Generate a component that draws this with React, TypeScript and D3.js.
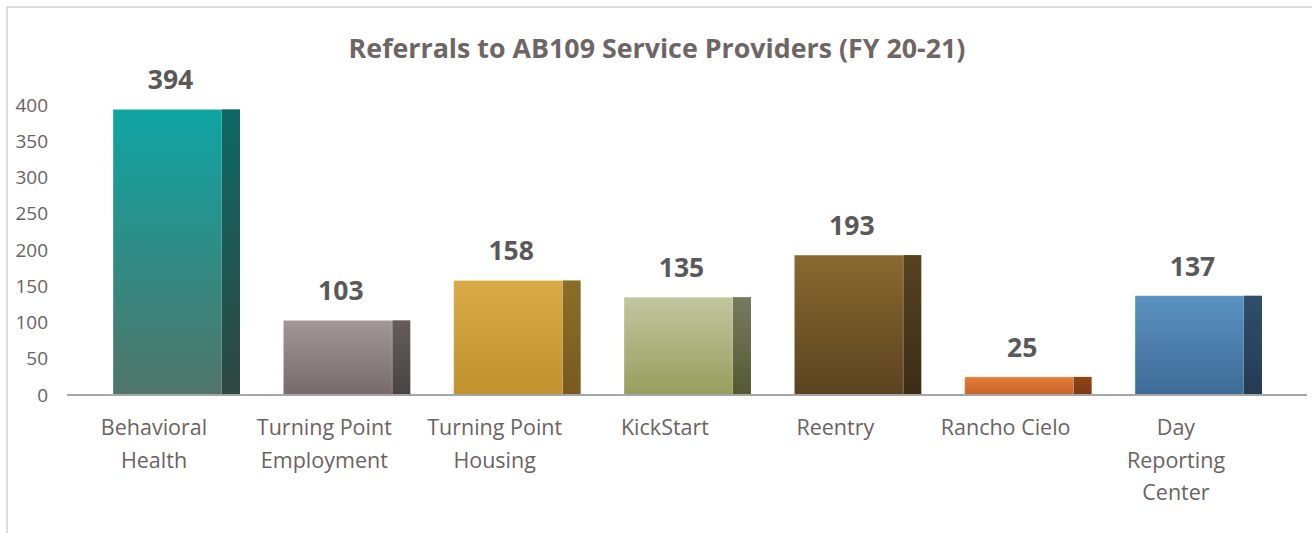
import React from "react";
import * as d3 from "d3";

const categories = [
  "Behavioral Health",
  "Turning Point Employment",
  "Turning Point Housing",
  "KickStart",
  "Reentry",
  "Rancho Cielo",
  "Day Reporting Center",
];
const categoryLines = [
  ["Behavioral", "Health"],
  ["Turning Point", "Employment"],
  ["Turning Point", "Housing"],
  ["KickStart"],
  ["Reentry"],
  ["Rancho Cielo"],
  ["Day", "Reporting", "Center"],
];
const values = [394, 103, 158, 135, 193, 25, 137];
const yTicks = [0, 50, 100, 150, 200, 250, 300, 350, 400];
const title = "Referrals to AB109 Service Providers (FY 20-21)";

// front top, front bottom, side top, side bottom
const barColors = [
  ["#0ea4a3", "#507569", "#0d6763", "#2f4842"],
  ["#a29898", "#766a6a", "#655d5d", "#494343"],
  ["#d9ab47", "#c0912c", "#8c6d28", "#775b1e"],
  ["#c1c79f", "#979e5d", "#777b5e", "#545933"],
  ["#89692f", "#5a4320", "#56431f", "#3b2d15"],
  ["#e27c37", "#c9622a", "#8e4619", "#7a3a13"],
  ["#5b92c1", "#3d6b96", "#2f4f6c", "#233b53"],
];

const W = 1312;
const H = 533;
const FONT = "'Open Sans', 'Noto Sans', sans-serif";

export default function App() {
  const y = d3.scaleLinear().domain([0, 400]).range([395, 105]);
  const x = d3
    .scaleBand<string>()
    .domain(categories)
    .range([113, 113 + 7 * 170.33])
    .paddingInner(0)
    .paddingOuter(0);
  const frontW = 109;
  const sideW = 18;
  const labelOff = 41;

  return (
    <div style={{ position: "fixed", left: 0, top: 0 }}>
      <svg width={W} height={H} style={{ display: "block", background: "#fff" }}>
        <defs>
          {barColors.map((c, i) => (
            <React.Fragment key={i}>
              <linearGradient id={`gf${i}`} x1="0" y1="0" x2="0" y2="1">
                <stop offset="0" stopColor={c[0]} />
                <stop offset="1" stopColor={c[1]} />
              </linearGradient>
              <linearGradient id={`gs${i}`} x1="0" y1="0" x2="0" y2="1">
                <stop offset="0" stopColor={c[2]} />
                <stop offset="1" stopColor={c[3]} />
              </linearGradient>
            </React.Fragment>
          ))}
        </defs>
        {/* chart border */}
        <line x1={7} y1={7} x2={W} y2={7} stroke="#d0d0d0" strokeWidth={1.5} />
        <line x1={7} y1={7} x2={7} y2={H} stroke="#d0d0d0" strokeWidth={1.5} />

        <text
          x={657}
          y={58}
          textAnchor="middle"
          fontFamily={FONT}
          fontWeight={700}
          fontSize={26.8}
          fill="#6e6565"
        >
          {title}
        </text>

        {yTicks.map((t) => (
          <text
            key={t}
            x={48}
            y={y(t)}
            dy="0.35em"
            textAnchor="end"
            fontFamily={FONT}
            fontSize={19}
            fill="#6b6262"
          >
            {t}
          </text>
        ))}

        {categories.map((c, i) => {
          const x0 = x(c)!;
          const top = y(values[i]);
          const bottom = y(0);
          return (
            <g key={c}>
              <rect
                x={x0}
                y={top}
                width={frontW}
                height={bottom - top}
                fill={`url(#gf${i})`}
                stroke="rgba(255,255,255,0.35)"
                strokeWidth={1}
              />
              <rect
                x={x0 + frontW}
                y={top}
                width={sideW}
                height={bottom - top}
                fill={`url(#gs${i})`}
              />
              <text
                x={x0 + frontW / 2 + 3}
                y={top - 20}
                textAnchor="middle"
                fontFamily={FONT}
                fontWeight={700}
                fontSize={26.5}
                fill="#595959"
              >
                {values[i]}
              </text>
              <text
                x={x0 + labelOff}
                y={435}
                textAnchor="middle"
                fontFamily={FONT}
                fontSize={21.5}
                fill="#6b6262"
              >
                {categoryLines[i].map((ln, k) => (
                  <tspan key={k} x={x0 + labelOff} dy={k === 0 ? 0 : 32.5}>
                    {ln}
                  </tspan>
                ))}
              </text>
            </g>
          );
        })}

        <line x1={67} y1={y(0)} x2={1307} y2={y(0)} stroke="#a6a6a6" strokeWidth={2} />
      </svg>
    </div>
  );
}
